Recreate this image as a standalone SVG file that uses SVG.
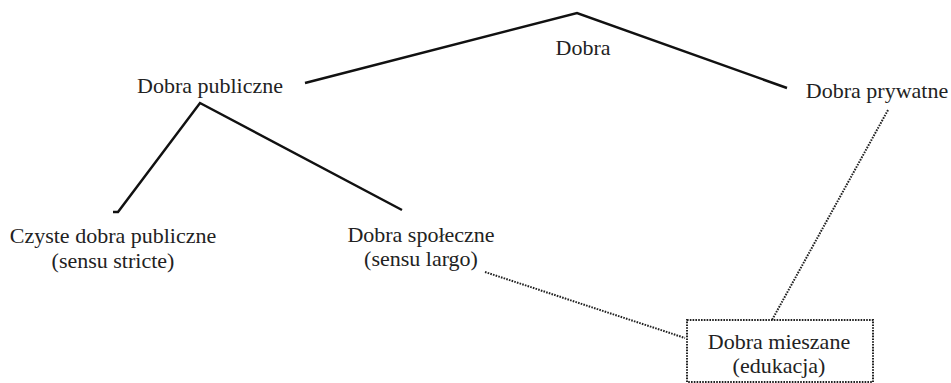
<svg xmlns="http://www.w3.org/2000/svg" width="951" height="383" viewBox="0 0 951 383">
<style>
text{font-family:"Liberation Serif","Times New Roman",serif;font-size:22px;fill:#222;text-anchor:middle}
.solid{fill:none;stroke:#111;stroke-width:2.5;stroke-linejoin:miter}
.dot{fill:none;stroke:#222;stroke-width:2;stroke-dasharray:1.6 1.2}
</style>
<rect width="951" height="383" fill="#fff"/>
<g id="connectors">
<polyline class="solid" points="305,83 577,13 787,88"/>
<polyline class="solid" points="113,212 118,212 200,103 402,210"/>
<line class="dot" x1="485" y1="272" x2="685" y2="338"/>
<line class="dot" x1="888" y1="110" x2="772" y2="320"/>
</g>
<g id="dobra"><text x="583" y="55">Dobra</text></g>
<g id="dobra-publiczne"><text x="210" y="93">Dobra publiczne</text></g>
<g id="dobra-prywatne"><text x="877" y="98">Dobra prywatne</text></g>
<g id="czyste"><text x="113" y="243">Czyste dobra publiczne</text><text x="113" y="268">(sensu stricte)</text></g>
<g id="spoleczne"><text x="421" y="242">Dobra społeczne</text><text x="421" y="266">(sensu largo)</text></g>
<g id="mieszane"><rect class="dot" x="687" y="320" width="186" height="62"/><text x="779" y="349">Dobra mieszane</text><text x="779" y="373">(edukacja)</text></g>
</svg>
